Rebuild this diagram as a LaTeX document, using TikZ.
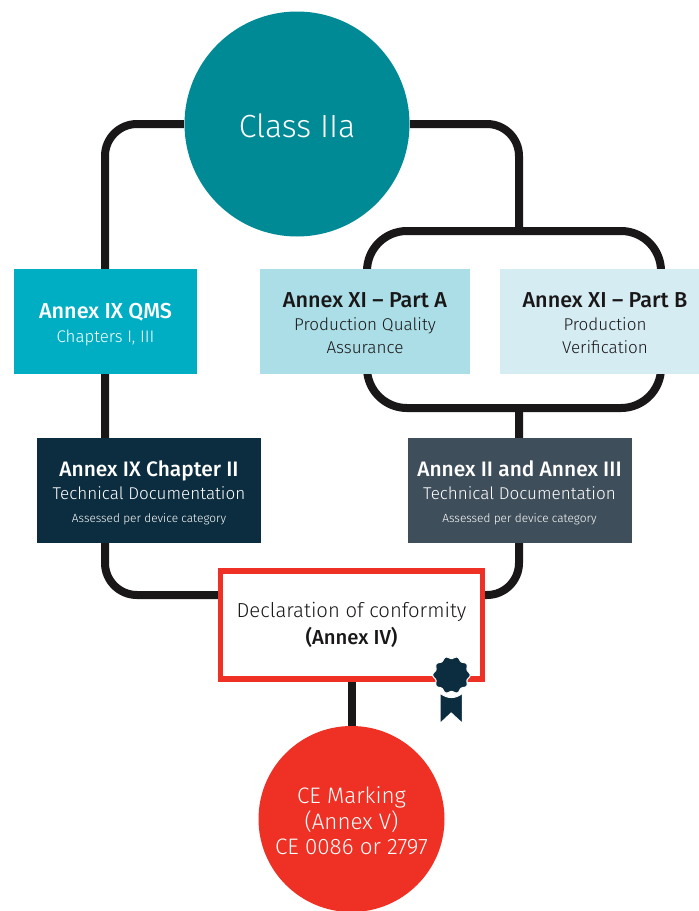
\documentclass[tikz,border=0pt]{standalone}
\usepackage{fontspec}
\setmainfont{Fira Sans Light}[BoldFont={Fira Sans Medium}]
\usetikzlibrary{backgrounds}
\definecolor{teal1}{HTML}{008A96}
\definecolor{c1}{HTML}{00AEC3}
\definecolor{c2}{HTML}{ABDEE6}
\definecolor{c3}{HTML}{D4ECF2}
\definecolor{c4}{HTML}{0C2D3F}
\definecolor{c5}{HTML}{3F4E5B}
\definecolor{redc}{HTML}{EE3124}
\definecolor{linec}{HTML}{1A1718}
\newcommand{\ttl}{\bfseries\fontsize{16.2}{17}\selectfont}
\newcommand{\ttlb}{\bfseries\fontsize{15.7}{17}\selectfont}
\newcommand{\subt}{\fontsize{12.8}{17}\selectfont}
\newcommand{\smallt}{\fontsize{8.9}{12}\selectfont}
\newcommand{\st}[1]{\rule{0pt}{#1pt}}
\tikzset{
 wire/.style={draw=linec,line width=6pt,rounded corners=24pt},
 panel/.style={minimum height=105*0.75pt,inner sep=0pt,align=center},
 lines/.style={font=\fontsize{12}{17.25}\selectfont}
}
\begin{document}
\begin{tikzpicture}[x=0.75pt,y=-0.75pt]
\useasboundingbox (0,0) rectangle (699,911);
% nodes
\node[circle,fill=teal1,minimum size=225*0.75pt,inner sep=0pt,text=white,font=\fontsize{24}{28}\selectfont] (classiia) at (297,124) {\st{21}Class IIa};
\node[panel,lines,fill=c1,minimum width=183*0.75pt,text=white,font=\fontsize{12}{18}\selectfont] (a) at (105.5,321) {{\st{16.5}\ttl Annex IX QMS}\\{\fontsize{12.6}{17}\selectfont Chapters I, III}};
\node[panel,lines,fill=c2,minimum width=210*0.75pt,text=linec] (b) at (365,321) {{\st{14.2}\ttl Annex XI -- Part A}\\{\subt Production Quality}\\{\subt Assurance}};
\node[panel,lines,fill=c3,minimum width=210*0.75pt,text=linec] (c) at (605,321) {{\st{14.2}\ttl Annex XI -- Part B}\\{\subt Production}\\{\subt Verification}};
\node[panel,lines,fill=c4,minimum width=224*0.75pt,text=white] (d) at (149,490) {{\st{16.5}\ttlb Annex IX Chapter II}\\{\subt Technical Documentation}\\{\smallt Assessed per device category}};
\node[panel,lines,fill=c5,minimum width=224*0.75pt,text=white] (e) at (519.5,490) {{\st{16.5}\ttlb Annex II and Annex III}\\{\subt Technical Documentation}\\{\smallt Assessed per device category}};
\node[draw=redc,fill=white,line width=4pt,minimum width=262*0.75pt,minimum height=108*0.75pt,inner sep=0pt,text=linec,align=center,font=\fontsize{15.2}{20}\selectfont] (f) at (351.5,625) {Declaration of conformity\\{\bfseries (Annex IV)}};
\node[circle,fill=redc,minimum size=186*0.75pt,inner sep=0pt,text=white,align=center,font=\fontsize{16.8}{19}\selectfont] (g) at (351.5,819) {\st{15.5}CE Marking\\(Annex V)\\CE 0086 or 2797};
% connector way-points
\coordinate (tl) at (105,124);
\coordinate (tr) at (519,124);
\coordinate (lb) at (105,595);
\coordinate (rb) at (519,595);
\coordinate (lt) at (519,231);
\coordinate (ll) at (519,408);
\coordinate (q1) at (661,231);
\coordinate (q2) at (661,408);
\coordinate (q3) at (367,408);
\coordinate (q4) at (367,231);
% wires
\begin{scope}[on background layer]
\fill[white] (0,0) rectangle (699,911);
\draw[wire] (classiia) -- (tl) -- (lb) -- (lb -| f);
\draw[wire] (classiia) -- (tr) -- (lt);
\draw[wire] (ll) -- (rb) -- (rb -| f);
\draw[wire,rounded corners=30pt] (lt) -- (q1) -- (q2) -- (q3) -- (q4) -- cycle;
\draw[draw=linec,line width=6pt] (f) -- (g);
\end{scope}
% seal
\fill[c4,draw=white,line width=0.8pt] (440,693) .. controls (447,699) and (456,699) .. (462.5,693) -- (462.5,723.5) -- (451.2,713) -- (440,723.5) -- cycle;
\fill[c4,draw=white,line width=0.8pt,smooth cycle] plot[domain=0:350,samples=60,variable=\t] ({451.5+(17.6+1.3*cos(10*\t))*cos(\t)},{675+(17.6+1.3*cos(10*\t))*sin(\t)}) -- cycle;
\end{tikzpicture}
\end{document}
